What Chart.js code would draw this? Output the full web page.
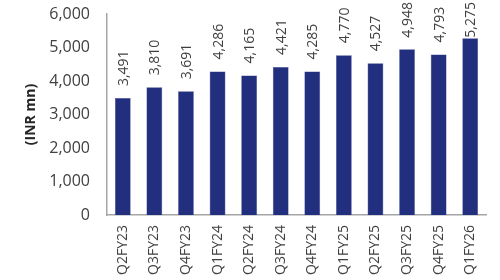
<!DOCTYPE html>
<html><head><meta charset="utf-8">
<script src="https://cdn.jsdelivr.net/npm/chart.js@4.4.0/dist/chart.umd.min.js"></script>
<style>html,body{margin:0;padding:0;background:#fff}#wrap{width:500px;height:280px}</style>
</head><body><div id="wrap"><canvas id="c" width="500" height="280"></canvas></div>
<script>
const categories = ["Q2FY23","Q3FY23","Q4FY23","Q1FY24","Q2FY24","Q3FY24","Q4FY24","Q1FY25","Q2FY25","Q3FY25","Q4FY25","Q1FY26"];
const revenue = [3491,3810,3691,4286,4165,4421,4285,4770,4527,4948,4793,5275];
const yTicks = [0,1000,2000,3000,4000,5000,6000];
const yTitle = "(INR mn)";

const FONT = "'Open Sans', 'Noto Sans', sans-serif";
const labelPlugin = {
  id: 'vlabels',
  afterDatasetsDraw(chart) {
    const ctx = chart.ctx;
    const meta = chart.getDatasetMeta(0);
    ctx.save();
    ctx.font = "14px " + FONT;
    ctx.fillStyle = "#404040";
    ctx.textAlign = "left";
    ctx.textBaseline = "middle";
    meta.data.forEach((bar, i) => {
      const txt = revenue[i].toLocaleString('en-US');
      const w = ctx.measureText(txt).width;
      const start = Math.min(bar.y, Math.max(bar.y - 12, 2 + w));
      ctx.save();
      ctx.translate(bar.x + 1, start);
      ctx.rotate(-Math.PI / 2);
      ctx.fillText(txt, 0, 0);
      ctx.restore();
    });
    ctx.restore();
  }
};

new Chart(document.getElementById('c'), {
  type: 'bar',
  data: {
    labels: categories,
    datasets: [{
      data: revenue,
      backgroundColor: '#222E7E',
      borderColor: '#3A4690',
      borderWidth: 0.5,
      barPercentage: 0.5,
      categoryPercentage: 1.0
    }]
  },
  options: {
    responsive: false,
    animation: false,
    layout: { padding: { top: 0, right: 14, left: 16, bottom: 2 } },
    plugins: { legend: { display: false }, tooltip: { enabled: false } },
    scales: {
      x: {
        grid: { display: false, drawTicks: false },
        border: { display: true, color: '#A6A6A6', width: 1.5 },
        ticks: { maxRotation: 90, minRotation: 90, padding: 10, color: '#404040', font: { size: 14, family: FONT } },
        afterFit(scale) { scale.height = 63; }
      },
      y: {
        min: 0, max: 6000,
        afterBuildTicks(axis) { axis.ticks = yTicks.map(v => ({ value: v })); },
        grid: { display: false, drawTicks: false },
        border: { display: true, color: '#A6A6A6', width: 1.5 },
        ticks: { padding: 17, color: '#404040', font: { size: 16, family: FONT },
          callback: v => v.toLocaleString('en-US') },
        title: { display: true, text: yTitle, color: '#262626', padding: { top: 7, bottom: 4 },
          font: { size: 14, weight: 'bold', family: FONT } },
        afterFit(scale) { scale.width = 91; scale.paddingTop = 14; scale.paddingBottom = 0; }
      }
    }
  },
  plugins: [labelPlugin]
});
</script>
</body></html>
